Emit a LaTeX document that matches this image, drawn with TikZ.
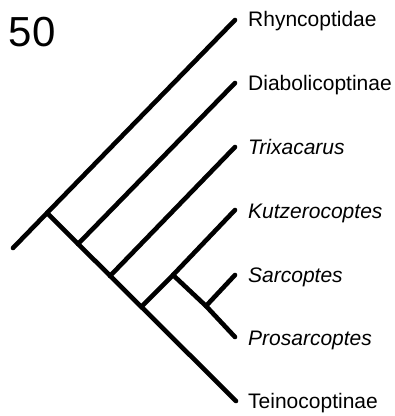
\documentclass[tikz,border=0pt]{standalone}
\usepackage{fontspec}
\setmainfont{Liberation Sans}
\usetikzlibrary{positioning}

\begin{document}
\begin{tikzpicture}[x=1pt,y=-1pt,
    branch/.style={line width=4.6pt,line cap=round,line join=round},
    taxon/.style={inner sep=0pt,anchor=base west,font=\fontsize{21}{24}\selectfont}]
        \useasboundingbox (0,0) rectangle (395,416);
        % inner nodes of the tree
        \coordinate (root) at (13,248);
        \coordinate (A) at (47,213);
        \coordinate (B) at (78,244);
        \coordinate (C) at (110,276);
        \coordinate (D) at (142,306);
        \coordinate (E) at (173,275);
        \coordinate (F) at (206,306);
        % tips
        \coordinate (tRhy) at (235,20);
        \coordinate (tDia) at (235,83);
        \coordinate (tTri) at (235,147);
        \coordinate (tKut) at (235,210);
        \coordinate (tSar) at (235,275);
        \coordinate (tPro) at (235,337);
        \coordinate (tTei) at (236,401);
        \draw[branch] (root) -- (A) -- (tRhy);
        \draw[branch] (A) -- (tTei);
        \draw[branch] (B) -- (tDia);
        \draw[branch] (C) -- (tTri);
        \draw[branch] (D) -- (E) -- (tKut);
        \draw[branch] (E) -- (F) -- (tPro);
        \draw[branch] (F) -- (tSar);
        % names of the taxa
        \node[taxon] (nRhy) at (248,26.5) {Rhyncoptidae};
        \node[taxon] (nDia) at (248,90.5) {Diabolicoptinae};
        \node[taxon] (nTri) at (248,154) {\itshape Trixacarus};
        \node[taxon] (nKut) at (248,218) {\itshape Kutzerocoptes};
        \node[taxon] (nSar) at (248,282) {\itshape Sarcoptes};
        \node[taxon] (nPro) at (248,345.5) {\itshape Prosarcoptes};
        \node[taxon] (nTei) at (248,408.5) {Teinocoptinae};
        \node[inner sep=0pt,anchor=base west,font=\fontsize{42}{48}\selectfont] (fig) at (8.5,46.5) {50};
\end{tikzpicture}
\end{document}
